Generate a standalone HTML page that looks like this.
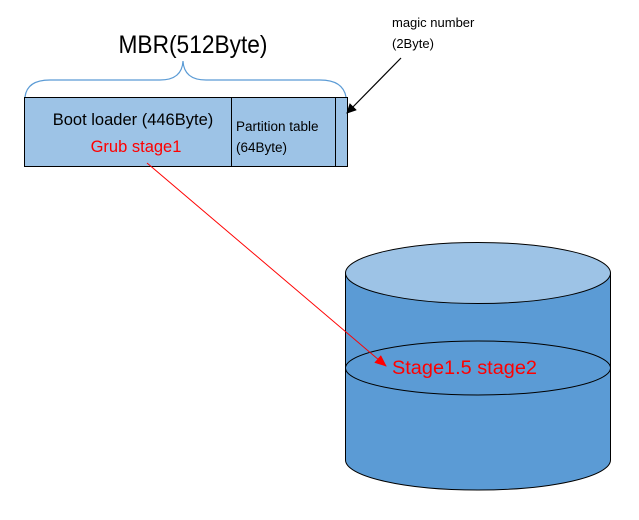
<!DOCTYPE html>
<html><head><style>body{margin:0;background:#fff}svg{display:block}</style></head><body>
<svg width="639" height="520" viewBox="0 0 639 520" xmlns="http://www.w3.org/2000/svg" font-family="Liberation Sans, sans-serif">
<defs>
<marker id="ab" markerWidth="10" markerHeight="10" refX="9" refY="5" orient="auto" markerUnits="userSpaceOnUse"><path d="M0,0 L10,5 L0,10 z" fill="#000"/></marker>
<marker id="ar" markerWidth="12" markerHeight="10" refX="11" refY="5" orient="auto" markerUnits="userSpaceOnUse"><path d="M0,0 L12,5 L0,10 z" fill="#f00"/></marker>
</defs>
<text x="193" y="53" font-size="25" text-anchor="middle" fill="#000" textLength="149" lengthAdjust="spacingAndGlyphs">MBR(512Byte)</text>
<path d="M25,97 Q27,80 50,80 L160,80 Q182,80 183,61 Q184,80 206,80 L320,80 Q343,80 346,97" fill="none" stroke="#5b9bd5" stroke-width="1.2"/>
<rect x="24.5" y="97.5" width="323" height="69" fill="#9dc3e6" stroke="#000" stroke-width="1"/>
<line x1="231.5" y1="97.5" x2="231.5" y2="166.5" stroke="#000"/>
<line x1="335.5" y1="97.5" x2="335.5" y2="166.5" stroke="#000"/>
<text x="133" y="125" font-size="16.5" text-anchor="middle" fill="#000">Boot loader (446Byte)</text>
<text x="136" y="152" font-size="16.5" text-anchor="middle" fill="#f00">Grub stage1</text>
<text x="236" y="131" font-size="13.5" fill="#000">Partition table</text>
<text x="236" y="152" font-size="13.5" fill="#000">(64Byte)</text>
<text x="392" y="27" font-size="13" fill="#000">magic number</text>
<text x="392" y="48" font-size="13" fill="#000">(2Byte)</text>
<line x1="401" y1="58" x2="347" y2="113" stroke="#000" stroke-width="1.2" marker-end="url(#ab)"/>
<path d="M345.5,273 L345.5,460 A132.5,30 0 0 0 610.5,460 L610.5,273 z" fill="#5b9bd5" stroke="#000" stroke-width="1"/>
<ellipse cx="478" cy="273" rx="132.5" ry="30.5" fill="#9dc3e6" stroke="#000" stroke-width="1"/>
<ellipse cx="478" cy="368" rx="132.5" ry="27" fill="none" stroke="#000" stroke-width="1"/>
<line x1="147" y1="163" x2="386" y2="366" stroke="#f00" stroke-width="1" marker-end="url(#ar)"/>
<text x="392" y="374" font-size="19" fill="#f00" textLength="145" lengthAdjust="spacingAndGlyphs">Stage1.5 stage2</text>
</svg>
</body></html>
